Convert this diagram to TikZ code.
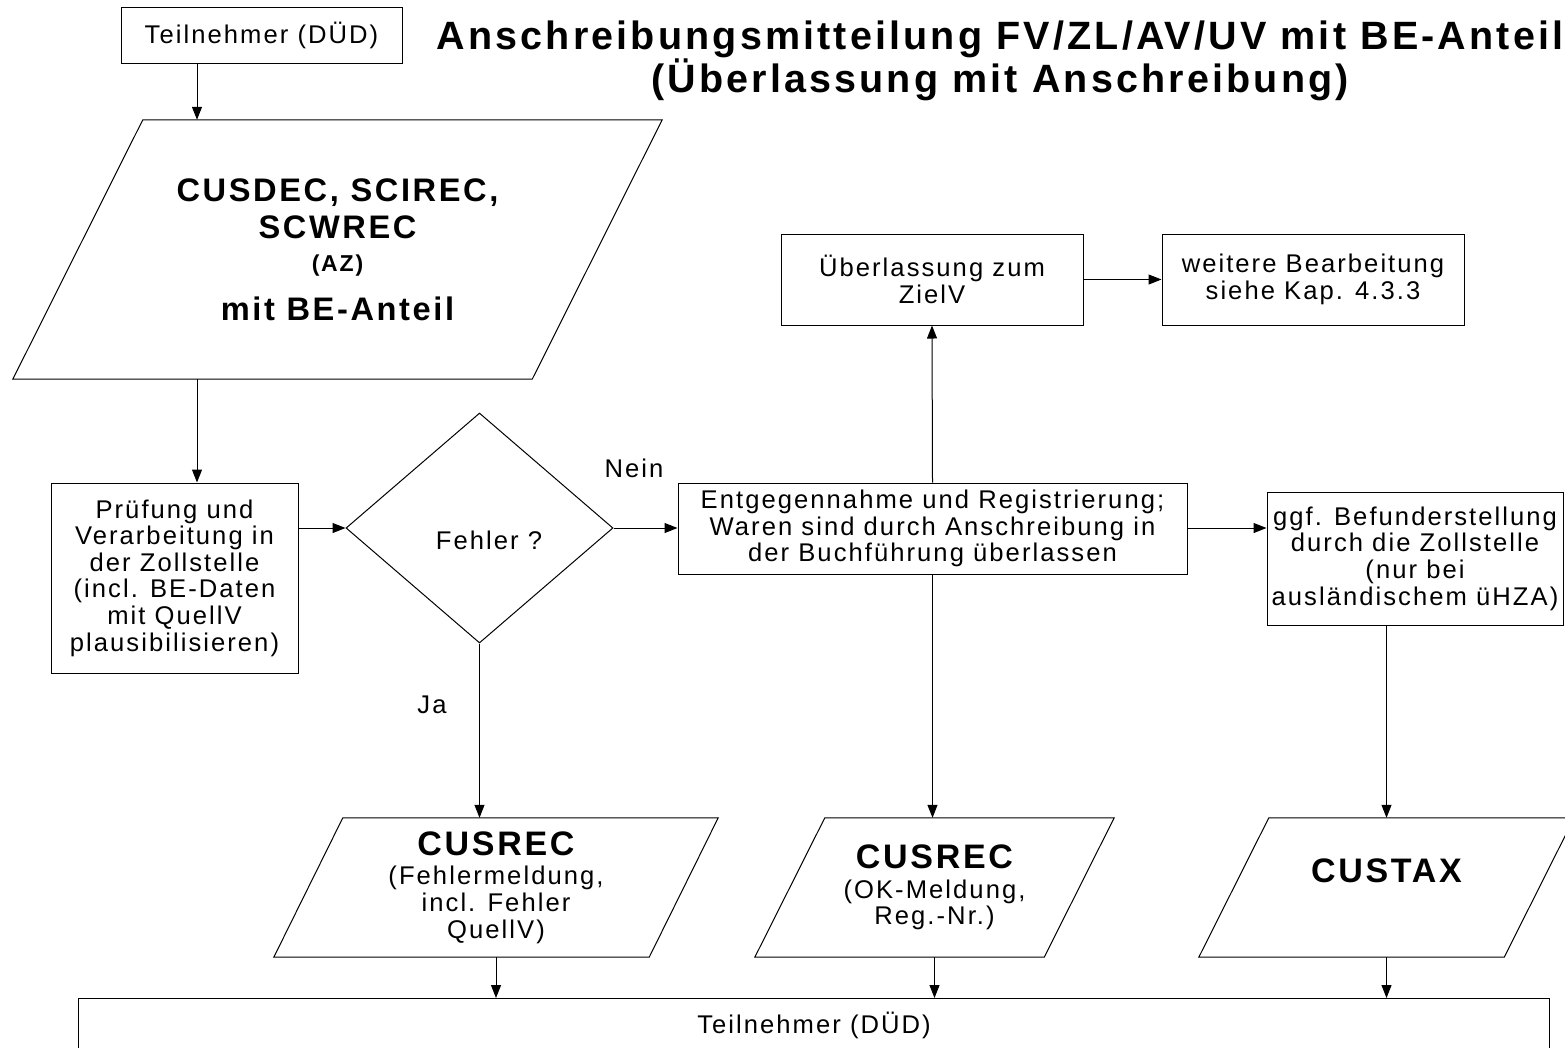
\documentclass[tikz,border=0pt]{standalone}
\usepackage{fontspec}
\setmainfont{Liberation Sans}[LetterSpace=8]
\usetikzlibrary{arrows.meta,shapes.geometric}

\newcommand\normtext{\fontsize{25.6}{26.6}\selectfont}
\newcommand\bigbold{\fontsize{34}{37}\selectfont\bfseries}

\tikzset{
  box/.style={draw, line width=1pt, align=center, inner sep=0pt, font=\normtext},
  para/.style={align=center, inner sep=0pt},
  conn/.style={line width=1pt, -{Triangle[length=13pt,width=10pt]}},
}

\begin{document}
\begin{tikzpicture}[x=1pt,y=-1pt]
    \useasboundingbox (0,0) rectangle (1565,1047);

    % Title
    \node[align=center, font=\fontsize{39.5}{37}\selectfont\bfseries] (titel) at (1000,61)
        {Anschreibungsmitteilung FV/ZL/AV/UV mit BE-Anteil\\(Überlassung mit Anschreibung)};

    % Nodes of the flow
    \node[box, minimum width=281pt, minimum height=56pt] (teil) at (261.5,35) {Teilnehmer (DÜD)};
    \node[para, minimum width=519pt, minimum height=259pt, font=\fontsize{32.6}{37}\selectfont\bfseries] (cusdec) at (337.5,249.5)
        {CUSDEC, SCIREC,\\SCWREC\\[-4pt]{\fontsize{23}{26}\selectfont (AZ)}\\[12pt]mit BE-Anteil};
    \node[box, minimum width=247pt, minimum height=190pt] (pruef) at (174.5,578)
        {Prüfung und\\Verarbeitung in\\der Zollstelle\\(incl. BE-Daten\\mit QuellV\\plausibilisieren)};
    \node[draw, diamond, line width=1pt, minimum width=267pt, minimum height=230pt, inner sep=0pt] (fehler) at (479.5,528) {};
    \node[font=\normtext] (fehlertxt) at (489,540) {Fehler ?};
    \node[box, minimum width=509pt, minimum height=91pt] (entg) at (932.5,528.5)
        {Entgegennahme und Registrierung;\\Waren sind durch Anschreibung in\\der Buchführung überlassen};
    \node[box, minimum width=302pt, minimum height=91pt] (uebl) at (932,279.5) {Überlassung zum\\ZielV};
    \node[box, minimum width=302pt, minimum height=91pt] (weiter) at (1313,279.5) {weitere Bearbeitung\\siehe Kap. 4.3.3};
    \node[box, minimum width=296pt, minimum height=133pt] (befund) at (1415,558.5)
        {ggf. Befunderstellung\\durch die Zollstelle\\(nur bei\\ausländischem üHZA)};

    % Messages
    \node[para, minimum width=375pt, minimum height=139pt, font=\normtext] (cusrec1) at (496,887.5)
        {{\bigbold CUSREC}\\[3pt](Fehlermeldung,\\incl. Fehler\\QuellV)};
    \node[para, minimum width=289pt, minimum height=139pt, font=\normtext] (cusrec2) at (934.5,887.5)
        {{\bigbold CUSREC}\\[3pt](OK-Meldung,\\Reg.-Nr.)};
    \node[para, minimum width=305pt, minimum height=139pt] (custax) at (1386.5,887.5) {};
    \node[font=\bigbold] (custaxtxt) at ([yshift=16.5pt]custax.center) {CUSTAX};
    \foreach \n/\s in {cusdec/65, cusrec1/34.5, cusrec2/35, custax/35}
        \draw[line width=1pt] ([xshift=\s pt]\n.north west) -- ([xshift=\s pt]\n.north east)
            -- ([xshift=-\s pt]\n.south east) -- ([xshift=-\s pt]\n.south west) -- cycle;

    \node[draw, line width=1pt, minimum width=1471pt, minimum height=100pt, anchor=north west] (teil2) at (78,998) {};
    \node[font=\normtext] (teil2txt) at (814,1025) {Teilnehmer (DÜD)};

    % Connectors
    \coordinate (links) at (197,0);
    \draw[conn] (teil.south -| links) -- (cusdec.north -| links);
    \draw[conn] (cusdec.south -| links) -- (pruef.north -| links);
    \draw[conn] (fehler.west -| pruef.east) -- (fehler.west);
    \draw[conn] (fehler.east) -- (fehler.east -| entg.west);
    \draw[conn] (fehler.south) -- (fehler.south |- cusrec1.north);
    \draw[conn] (entg.north) -- (uebl.south);
    \draw[conn] (uebl.east) -- (weiter.west);
    \draw[conn] (entg.east |- fehler.east) -- (fehler.east -| befund.west);
    \draw[conn] (entg.south) -- (entg.south |- cusrec2.north);
    \draw[conn] (befund.south -| custax.north) -- (custax.north);
    \draw[conn] (cusrec1.south) -- (cusrec1.south |- teil2.north);
    \draw[conn] (cusrec2.south) -- (cusrec2.south |- teil2.north);
    \draw[conn] (custax.south) -- (custax.south |- teil2.north);

    \node[font=\normtext] (nein) at (634,468) {Nein};
    \node[font=\normtext] (ja) at (432,705) {Ja};
\end{tikzpicture}
\end{document}
